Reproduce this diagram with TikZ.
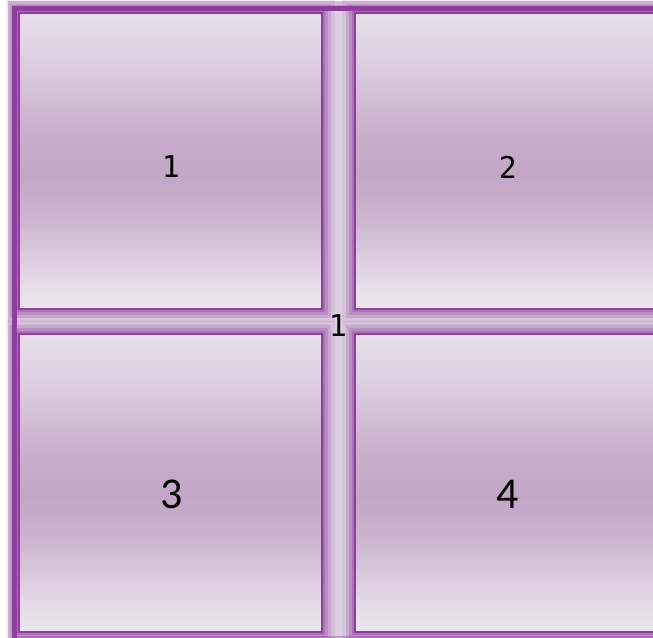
\documentclass[tikz,border=0pt]{standalone}
\usepackage{fontspec}
\setmainfont{Carlito}
\newfontfamily\monof{DejaVu Sans Mono}
\definecolor{pborder}{HTML}{8E3F9C}
\definecolor{pband}{HTML}{DCD0E2}
\definecolor{sca}{HTML}{ECE6EF}
\definecolor{scb}{HTML}{E6DDE9}
\definecolor{scc}{HTML}{CDB6D0}
\definecolor{scd}{HTML}{C3A6C6}
\definecolor{sce}{HTML}{C9AFCC}
\definecolor{scf}{HTML}{DDD0E1}
\definecolor{scg}{HTML}{E7DFEA}
\pgfdeclareverticalshading{panelshade}{100bp}{
  color(0bp)=(sca);
  color(25bp)=(sca);
  color(29bp)=(scb);
  color(40bp)=(scc);
  color(47.5bp)=(scd);
  color(55bp)=(sce);
  color(67.5bp)=(scf);
  color(75bp)=(scg);
  color(100bp)=(scg)
}
\tikzset{
  glowa/.style={draw=pborder, line width=26pt, draw opacity=0.10},
  glowb/.style={draw=pborder, line width=18pt, draw opacity=0.18},
  glowc/.style={draw=pborder, line width=12pt, draw opacity=0.25},
  glowd/.style={draw=pborder, line width=6pt, draw opacity=0.35},
  panel/.style={shading=panelshade, draw=pborder, line width=2pt},
  smalllab/.style={font=\monof\fontsize{30}{32}\selectfont, text=black, inner sep=0pt},
  biglab/.style={font=\fontsize{44}{48}\selectfont, text=black, inner sep=0pt}
}
\begin{document}
\begin{tikzpicture}[x=1pt,y=-1pt]
\useasboundingbox (0,0) rectangle (653,637);
\fill[white] (0,0) rectangle (653,637);
% background between panels and outer frame
\fill[pband] (12,5) rectangle (660,640);
\draw[pborder, line width=9pt, draw opacity=0.35] (12,5) rectangle (660,640);
\draw[pborder, line width=5pt] (14,8) rectangle (660,640);
% panel glows
\foreach \xa/\ya/\xb/\yb in {19/13/322/309, 355/13/660/309, 19/334/322/632, 355/334/660/632}{
  \draw[glowa] (\xa,\ya) rectangle (\xb,\yb);
  \draw[glowb] (\xa,\ya) rectangle (\xb,\yb);
  \draw[glowc] (\xa,\ya) rectangle (\xb,\yb);
  \draw[glowd] (\xa,\ya) rectangle (\xb,\yb);
}
% panels
\shade[panel] (19,13) rectangle (322,309);
\shade[panel] (355,13) rectangle (660,309);
\shade[panel] (19,334) rectangle (322,632);
\shade[panel] (355,334) rectangle (660,632);
\node[smalllab] (l1) at (171,167) {1};
\node[smalllab] (l2) at (508,167) {2};
\node[biglab] (l3) at (172,494) {3};
\node[biglab] (l4) at (508,494) {4};
\node[smalllab] (lc) at (338,326) {1};
\end{tikzpicture}
\end{document}
